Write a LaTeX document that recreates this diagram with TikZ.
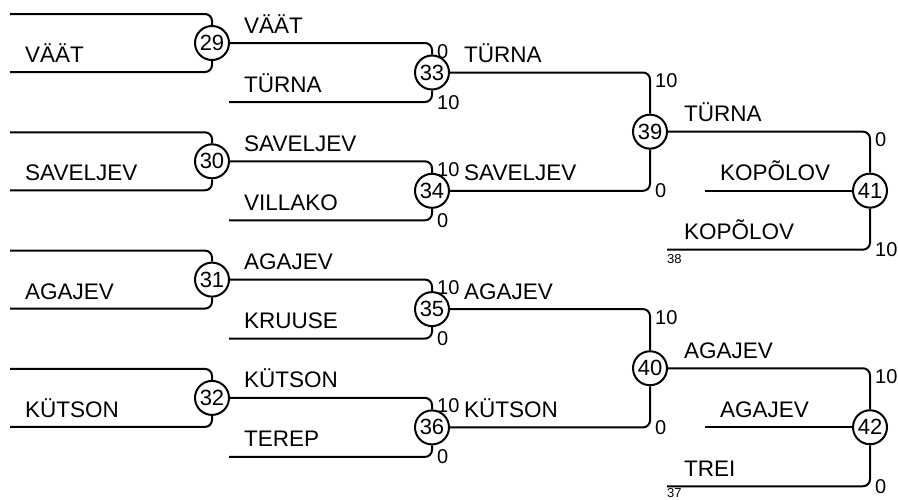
\documentclass[tikz,border=0pt]{standalone}
\usepackage{fontspec}
\setmainfont{Liberation Sans}
\begin{document}
\begin{tikzpicture}[x=1pt,y=-1pt,
  match/.style={circle,draw,line width=2pt,minimum size=34pt,inner sep=0pt,font=\fontsize{22}{24}\selectfont},
  conn/.style={line width=2pt,rounded corners=7pt},
  lbl/.style={anchor=base west,inner sep=0pt,font=\fontsize{22.5}{24}\selectfont},
  score/.style={anchor=base west,inner sep=0pt,font=\fontsize{20}{22}\selectfont},
  seed/.style={anchor=base west,inner sep=0pt,font=\fontsize{13}{14}\selectfont}]
\useasboundingbox (0,0) rectangle (898,499);
% match circles
\node[match] (m29) at (212,43) {29};
\node[match] (m30) at (212,161.3) {30};
\node[match] (m31) at (212,279.6) {31};
\node[match] (m32) at (212,397.9) {32};
\node[match] (m33) at (432,72.5) {33};
\node[match] (m34) at (432,190.8) {34};
\node[match] (m35) at (432,309.1) {35};
\node[match] (m36) at (432,427.4) {36};
\node[match] (m39) at (650,131.65) {39};
\node[match] (m40) at (650,368.25) {40};
\node[match] (m41) at (870,190.65) {41};
\node[match] (m42) at (870,427.25) {42};
% free line ends
\coordinate (t29) at (10,14);    \coordinate (u29) at (10,72);
\coordinate (t30) at (10,132.3); \coordinate (u30) at (10,190.3);
\coordinate (t31) at (10,250.6); \coordinate (u31) at (10,308.6);
\coordinate (t32) at (10,368.9); \coordinate (u32) at (10,426.9);
\coordinate (u33) at (229,102);
\coordinate (u34) at (229,220.3);
\coordinate (u35) at (229,338.6);
\coordinate (u36) at (229,456.9);
\coordinate (k41) at (705,190.65); \coordinate (u41) at (667,249.65);
\coordinate (k42) at (705,427.25); \coordinate (u42) at (667,486.25);
% round 1
\foreach \m in {29,30,31,32}{
  \draw[conn] (t\m) -- (t\m -| m\m) -- (m\m.north);
  \draw[conn] (u\m) -- (u\m -| m\m) -- (m\m.south);
}
% round 2
\draw[conn] (m29.east) -- (m29.east -| m33) -- (m33.north);
\draw[conn] (u33) -- (u33 -| m33) -- (m33.south);
\draw[conn] (m30.east) -- (m30.east -| m34) -- (m34.north);
\draw[conn] (u34) -- (u34 -| m34) -- (m34.south);
\draw[conn] (m31.east) -- (m31.east -| m35) -- (m35.north);
\draw[conn] (u35) -- (u35 -| m35) -- (m35.south);
\draw[conn] (m32.east) -- (m32.east -| m36) -- (m36.north);
\draw[conn] (u36) -- (u36 -| m36) -- (m36.south);
% round 3
\draw[conn] (m33.east) -- (m33.east -| m39) -- (m39.north);
\draw[conn] (m34.east) -- (m34.east -| m39) -- (m39.south);
\draw[conn] (m35.east) -- (m35.east -| m40) -- (m40.north);
\draw[conn] (m36.east) -- (m36.east -| m40) -- (m40.south);
% round 4
\draw[conn] (m39.east) -- (m39.east -| m41) -- (m41.north);
\draw[conn] (k41) -- (m41.west);
\draw[conn] (u41) -- (u41 -| m41) -- (m41.south);
\draw[conn] (m40.east) -- (m40.east -| m42) -- (m42.north);
\draw[conn] (k42) -- (m42.west);
\draw[conn] (u42) -- (u42 -| m42) -- (m42.south);
% labels round 1
\node[lbl] (l1) at (25,62.5) {VÄÄT};
\node[lbl] (l2) at (25,180.8) {SAVELJEV};
\node[lbl] (l3) at (25,299.1) {AGAJEV};
\node[lbl] (l4) at (25,417.4) {KÜTSON};
% labels round 2
\node[lbl] (l5) at (244,33) {VÄÄT};
\node[lbl] (l6) at (244,92) {TÜRNA};
\node[lbl] (l7) at (244,151.3) {SAVELJEV};
\node[lbl] (l8) at (244,210.3) {VILLAKO};
\node[lbl] (l9) at (244,269.6) {AGAJEV};
\node[lbl] (l10) at (244,328.6) {KRUUSE};
\node[lbl] (l11) at (244,387.9) {KÜTSON};
\node[lbl] (l12) at (244,446.9) {TEREP};
% labels round 3
\node[lbl] (l13) at (464,62.5) {TÜRNA};
\node[lbl] (l14) at (464,180.8) {SAVELJEV};
\node[lbl] (l15) at (464,299.1) {AGAJEV};
\node[lbl] (l16) at (464,417.4) {KÜTSON};
% labels round 4
\node[lbl] (l17) at (684,121.65) {TÜRNA};
\node[lbl] (l18) at (720,180.65) {KOPÕLOV};
\node[lbl] (l19) at (684,239.65) {KOPÕLOV};
\node[lbl] (l20) at (684,358.25) {AGAJEV};
\node[lbl] (l21) at (720,417.25) {AGAJEV};
\node[lbl] (l22) at (684,476.25) {TREI};
% scores
\node[score] (s33a) at (437,58) {0};
\node[score] (s33b) at (437,109) {10};
\node[score] (s34a) at (437,176.3) {10};
\node[score] (s34b) at (437,227.3) {0};
\node[score] (s35a) at (437,294.6) {10};
\node[score] (s35b) at (437,345.6) {0};
\node[score] (s36a) at (437,412.9) {10};
\node[score] (s36b) at (437,463.9) {0};
\node[score] (s39a) at (655,87.5) {10};
\node[score] (s39b) at (655,197.8) {0};
\node[score] (s40a) at (655,324.1) {10};
\node[score] (s40b) at (655,434.4) {0};
\node[score] (s41a) at (875,146.65) {0};
\node[score] (s41b) at (875,256.65) {10};
\node[score] (s42a) at (875,383.25) {10};
\node[score] (s42b) at (875,493.25) {0};
% seeds
\node[seed] (d38) at (667,263) {38};
\node[seed] (d37) at (667,497.5) {37};
\end{tikzpicture}
\end{document}
